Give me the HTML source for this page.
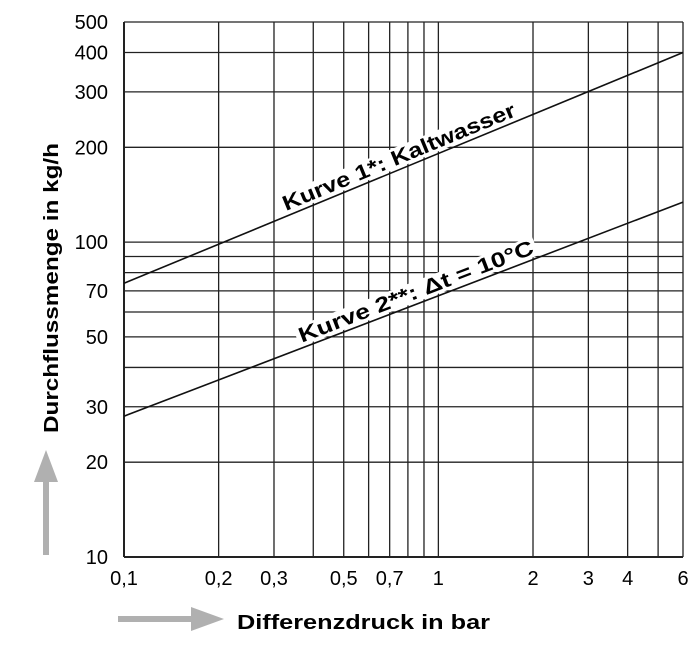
<!DOCTYPE html>
<html><head><meta charset="utf-8"><style>
html,body{margin:0;padding:0;background:#fff;}
svg{display:block;font-family:"Liberation Sans",sans-serif;}
</style></head><body>
<svg id="chart" width="700" height="666" viewBox="0 0 700 666" xmlns="http://www.w3.org/2000/svg">
<g id="grid"></g>
<g id="curves"></g>
<g id="labels"></g>
<text transform="translate(58,288) rotate(-90)" text-anchor="middle" font-size="20" font-weight="bold" textLength="290" lengthAdjust="spacingAndGlyphs">Durchflussmenge in kg/h</text>
<text x="237" y="629" font-size="20" font-weight="bold" textLength="253" lengthAdjust="spacingAndGlyphs">Differenzdruck in bar</text>
<g><rect x="43" y="480" width="6" height="75" fill="#b0b0b0"/><polygon points="46,450 34,482 58,482" fill="#b0b0b0"/></g>
<g><rect x="118" y="616" width="75" height="6" fill="#b0b0b0"/><polygon points="224,619 191,607 191,631" fill="#b0b0b0"/></g>
</svg>
<script>
const xGrid=[0.1,0.2,0.3,0.4,0.5,0.6,0.7,0.8,0.9,1,2,3,4,5,6];
const yGrid=[10,20,30,40,50,60,70,80,90,100,200,300,400,500];
const xTicks=[0.1,0.2,0.3,0.5,0.7,1,2,3,4,6];
const xTickLabels=["0,1","0,2","0,3","0,5","0,7","1","2","3","4","6"];
const yTicks=[10,20,30,50,70,100,200,300,400,500];
const yTickLabels=["10","20","30","50","70","100","200","300","400","500"];
const pressure=[0.1,6];
const flowKurve1=[74,400];
const flowKurve2=[28,134];
const X0=124,X1=683,Y0=557,Y1=22;
const xMin=Math.log10(0.1),xMax=Math.log10(6),yMin=1,yMax=Math.log10(500);
function sx(v){return X0+(Math.log10(v)-xMin)/(xMax-xMin)*(X1-X0);}
function sy(v){return Y0-(Math.log10(v)-yMin)/(yMax-yMin)*(Y0-Y1);}
const NS="http://www.w3.org/2000/svg";
function mk(t,a,p){const e=document.createElementNS(NS,t);for(const k in a)e.setAttribute(k,a[k]);p.appendChild(e);return e;}
const grid=document.getElementById('grid');
xGrid.forEach(v=>{const l=mk('line',{x1:sx(v),x2:sx(v),y1:Y1,y2:Y0,stroke:'#222','stroke-width':(v===0.1?2:1.3)},grid);

});
yGrid.forEach(v=>{const l=mk('line',{x1:X0,x2:X1,y1:sy(v),y2:sy(v),stroke:'#222','stroke-width':(v===10?2:1.3)},grid);

});
const lab=document.getElementById('labels');
xTicks.forEach((v,i)=>{const t=mk('text',{x:sx(v),y:585,'text-anchor':'middle','font-size':20},lab);t.textContent=xTickLabels[i];

});
yTicks.forEach((v,i)=>{const t=mk('text',{x:108,y:sy(v)+7,'text-anchor':'end','font-size':20},lab);t.textContent=yTickLabels[i];

});
const cv=document.getElementById('curves');
function curve(vals,name,text,frac){
 const pts=pressure.map((p,i)=>sx(p)+','+sy(vals[i])).join(' ');
 const pl=mk('polyline',{points:pts,fill:'none',stroke:'#111','stroke-width':1.6},cv);
 
 
 const xa=sx(pressure[0]),ya=sy(vals[0]),xb=sx(pressure[1]),yb=sy(vals[1]);
 const ang=Math.atan2(yb-ya,xb-xa)*180/Math.PI;
 const cx=xa+(xb-xa)*frac,cy=ya+(yb-ya)*frac;
 const g=mk('g',{transform:`translate(${cx},${cy}) rotate(${ang})`},cv);
 
 
 mk('rect',{x:-128,y:-22,width:256,height:20,fill:'#fff'},g);
 const t=mk('text',{x:0,y:-5,'text-anchor':'middle','font-size':21,'font-weight':'bold',textLength:250,lengthAdjust:'spacingAndGlyphs'},g);
 t.textContent=text;
}
curve(flowKurve1,'curve-1','Kurve 1*: Kaltwasser',0.5);
curve(flowKurve2,'curve-2','Kurve 2**: \u0394t = 10°C',0.53);
</script>
</body></html>
